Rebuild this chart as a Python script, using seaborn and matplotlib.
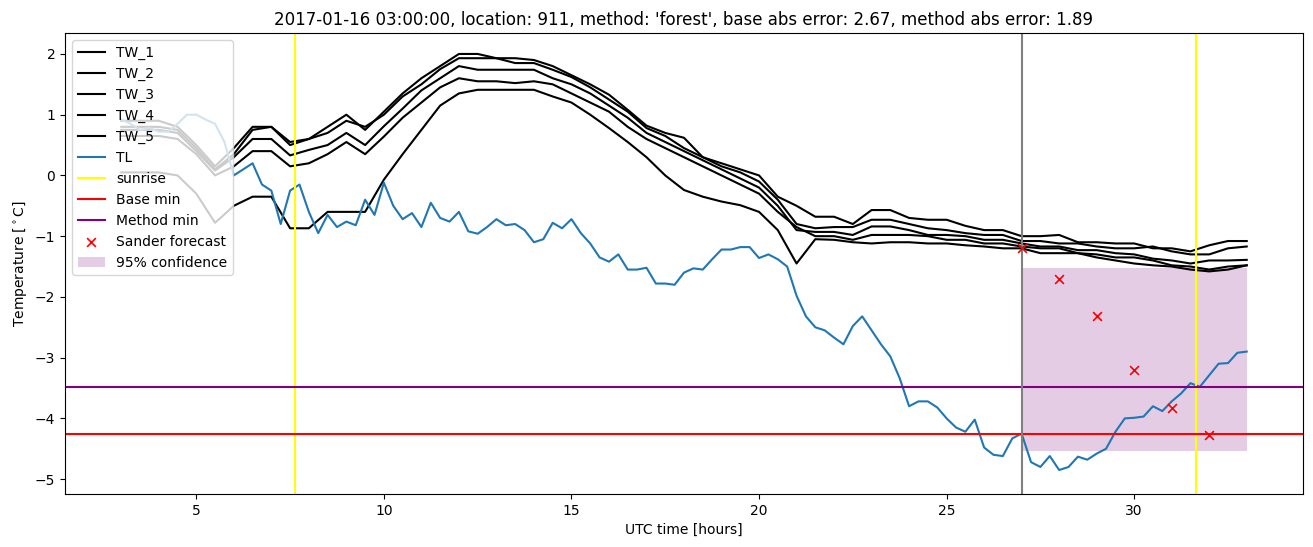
import numpy as np
import pandas as pd
import matplotlib
matplotlib.use("Agg")
import matplotlib.pyplot as plt
import seaborn as sns

# ---------------- data ----------------
tl_hours = np.linspace(3.0, 33.0, 121)
TL = [0.92, 0.85, 0.75, 0.78, 0.72, 0.72, 0.85, 1.00, 1.00, 0.92, 0.85, 0.55,
      0.00, 0.10, 0.20, -0.15, -0.25, -0.80, -0.25, -0.15, -0.60, -0.95, -0.65, -0.85,
      -0.76, -0.82, -0.40, -0.65, -0.12, -0.50, -0.72, -0.62, -0.85, -0.45, -0.70, -0.76,
      -0.60, -0.92, -0.96, -0.85, -0.72, -0.82, -0.80, -0.90, -1.10, -1.05, -0.78, -0.87,
      -0.72, -0.95, -1.12, -1.35, -1.42, -1.30, -1.55, -1.55, -1.52, -1.78, -1.78, -1.80,
      -1.60, -1.53, -1.55, -1.38, -1.22, -1.22, -1.18, -1.18, -1.36, -1.30, -1.38, -1.50,
      -1.98, -2.32, -2.50, -2.55, -2.67, -2.78, -2.48, -2.32, -2.55, -2.78, -2.98, -3.34,
      -3.80, -3.72, -3.72, -3.82, -4.00, -4.15, -4.22, -4.02, -4.48, -4.60, -4.62, -4.33,
      -4.25, -4.72, -4.80, -4.62, -4.85, -4.80, -4.63, -4.68, -4.58, -4.50, -4.22, -4.00,
      -3.99, -3.97, -3.80, -3.88, -3.72, -3.59, -3.42, -3.48, -3.29, -3.10, -3.09, -2.92,
      -2.90]

tw_hours = np.linspace(3.0, 33.0, 61)
TW_1 = [0.90, 0.90, 0.90, 0.80, 0.50, 0.15, 0.45, 0.80, 0.80, 0.55, 0.60, 0.80, 1.00, 0.75,
        1.05, 1.35, 1.60, 1.80, 2.00, 2.00, 1.93, 1.93, 1.90, 1.80, 1.65, 1.50, 1.33, 1.08,
        0.82, 0.70, 0.62, 0.30, 0.20, 0.10, 0.00, -0.35, -0.50, -0.68, -0.68, -0.80, -0.57,
        -0.57, -0.70, -0.73, -0.73, -0.83, -0.90, -0.90, -1.00, -1.00, -0.98, -1.10, -1.10,
        -1.12, -1.12, -1.20, -1.20, -1.25, -1.15, -1.08, -1.08]
TW_2 = [0.80, 0.80, 0.80, 0.75, 0.45, 0.10, 0.35, 0.75, 0.80, 0.50, 0.60, 0.70, 0.90, 0.80,
        1.00, 1.30, 1.50, 1.75, 1.93, 1.93, 1.93, 1.85, 1.85, 1.74, 1.62, 1.45, 1.25, 1.05,
        0.78, 0.65, 0.45, 0.30, 0.15, 0.05, -0.10, -0.40, -0.80, -0.87, -0.85, -0.85, -0.73,
        -0.73, -0.80, -0.87, -0.90, -0.95, -0.98, -0.98, -1.08, -1.08, -1.12, -1.12, -1.17,
        -1.20, -1.20, -1.17, -1.25, -1.30, -1.30, -1.20, -1.17]
TW_3 = [0.75, 0.75, 0.75, 0.70, 0.40, 0.08, 0.30, 0.60, 0.60, 0.33, 0.42, 0.50, 0.70, 0.50,
        0.81, 1.10, 1.40, 1.60, 1.80, 1.74, 1.74, 1.74, 1.74, 1.60, 1.50, 1.35, 1.15, 0.95,
        0.70, 0.55, 0.40, 0.25, 0.10, -0.05, -0.20, -0.50, -0.90, -0.93, -0.93, -0.98, -0.84,
        -0.84, -0.90, -0.98, -0.98, -1.00, -1.06, -1.06, -1.12, -1.17, -1.17, -1.23, -1.23,
        -1.28, -1.30, -1.37, -1.40, -1.45, -1.40, -1.40, -1.39]
TW_4 = [0.65, 0.65, 0.65, 0.60, 0.35, 0.00, 0.15, 0.40, 0.40, 0.15, 0.20, 0.35, 0.55, 0.35,
        0.64, 0.95, 1.20, 1.45, 1.60, 1.55, 1.55, 1.52, 1.55, 1.50, 1.35, 1.20, 1.05, 0.80,
        0.60, 0.45, 0.30, 0.15, 0.00, -0.15, -0.30, -0.60, -0.85, -1.00, -1.00, -1.06, -0.98,
        -0.98, -0.98, -1.00, -1.06, -1.06, -1.12, -1.12, -1.17, -1.20, -1.20, -1.28, -1.30,
        -1.35, -1.35, -1.40, -1.48, -1.50, -1.55, -1.50, -1.48]
TW_5 = [0.05, 0.05, 0.05, 0.00, -0.30, -0.78, -0.50, -0.35, -0.35, -0.87, -0.87, -0.60,
        -0.60, -0.60, -0.07, 0.35, 0.75, 1.15, 1.35, 1.41, 1.41, 1.41, 1.41, 1.30, 1.20, 1.00,
        0.78, 0.55, 0.30, 0.00, -0.24, -0.35, -0.43, -0.49, -0.60, -0.90, -1.45, -1.05, -1.06,
        -1.10, -1.12, -1.10, -1.10, -1.12, -1.12, -1.15, -1.17, -1.20, -1.20, -1.28, -1.28,
        -1.28, -1.35, -1.40, -1.45, -1.48, -1.50, -1.55, -1.58, -1.55, -1.48]

forecast_hours = [27, 28, 29, 30, 31, 32]
forecast_values = [-1.20, -1.70, -2.32, -3.21, -3.83, -4.27]

sunrise_hours = [7.63, 31.65]
now_hour = 27.0
base_min = -4.25
method_min = -3.49
conf_hours = [27.0, 33.0]
conf_low = -4.54
conf_high = -1.53

title = ("2017-01-16 03:00:00, location: 911, method: 'forest', "
         "base abs error: 2.67, method abs error: 1.89")

# ---------------- plot ----------------
fig = plt.figure(figsize=(13.13, 5.47), dpi=100)
ax = fig.add_axes([65 / 1313, 1 - 494 / 547, (1303 - 65) / 1313, (494 - 33) / 547])

for name, vals in [("TW_1", TW_1), ("TW_2", TW_2), ("TW_3", TW_3),
                   ("TW_4", TW_4), ("TW_5", TW_5)]:
    sns.lineplot(x=tw_hours, y=vals, color="black", label=name, ax=ax,
                 linewidth=1.5, sort=False)
sns.lineplot(x=tl_hours, y=TL, color="#1f77b4", label="TL", ax=ax,
             linewidth=1.5, sort=False)

ax.axvline(sunrise_hours[0], color="yellow", label="sunrise", linewidth=1.5)
ax.axvline(sunrise_hours[1], color="yellow", linewidth=1.5)
ax.axhline(base_min, color="red", label="Base min", linewidth=1.5)
ax.axhline(method_min, color="purple", label="Method min", linewidth=1.5)
ax.axvline(now_hour, color="gray", linewidth=1.5)

sns.scatterplot(x=forecast_hours, y=forecast_values, marker="x", color="red",
                s=40, linewidth=1.2, label="Sander forecast", ax=ax, zorder=3)
ax.fill_between(conf_hours, conf_low, conf_high, color="purple", alpha=0.2,
                linewidth=0, label="95% confidence")

ax.set_xlim(1.5, 34.5)
ax.set_ylim(-5.245, 2.345)
ax.set_xlabel("UTC time [hours]")
ax.set_ylabel(r"Temperature [$^\circ$C]")
ax.set_title(title)

handles, labels = ax.get_legend_handles_labels()
order = ["TW_1", "TW_2", "TW_3", "TW_4", "TW_5", "TL", "sunrise", "Base min",
         "Method min", "Sander forecast", "95% confidence"]
hmap = dict(zip(labels, handles))
ax.legend([hmap[o] for o in order], order, loc="upper left")

fig.savefig("out.png", dpi=100)
